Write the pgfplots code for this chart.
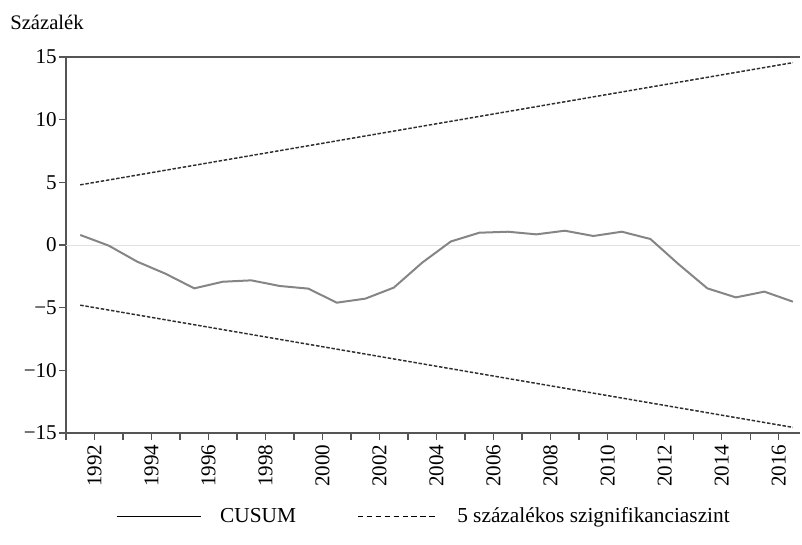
\documentclass[border=0pt]{standalone}
\usepackage{pgfplots}
\pgfplotsset{compat=1.18}
\usepackage{fontspec}
\setmainfont{Liberation Serif}
\definecolor{axgray}{HTML}{555555}
\definecolor{cusumc}{HTML}{858585}
\definecolor{dashc}{HTML}{2E2E2E}
\definecolor{zeroc}{HTML}{E2E2E2}
\begin{document}
\begin{tikzpicture}[x=1pt,y=1pt]
\useasboundingbox (-49.5,-83.25) rectangle (552,324.75);
\node[anchor=base west, inner sep=0pt, font=\fontsize{15.5}{18}\selectfont] at (-42,303) {Százalék};
\begin{axis}[
  at={(0,0)}, anchor=south west,
  scale only axis, width=550.5pt, height=282pt,
  xmin=1991, xmax=2016.75, ymin=-15, ymax=15,
  axis x line*=box, axis y line*=left,
  axis line style={axgray, line width=0.9pt, -},
  xtick={1992,1994,1996,1998,2000,2002,2004,2006,2008,2010,2012,2014,2016},
  xticklabels={1992,1994,1996,1998,2000,2002,2004,2006,2008,2010,2012,2014,2016},
  minor xtick={1991,1993,1995,1997,1999,2001,2003,2005,2007,2009,2011,2013,2015},
  ytick={-15,-10,-5,0,5,10,15},
  yticklabels={−15,−10,−5,0,5,10,15},
  tick align=outside, xtick pos=left, ytick pos=left,
  major tick length=5.25pt, minor tick length=5.25pt,
  every tick/.style={axgray, line width=0.9pt},
  minor tick style={axgray, line width=0.9pt},
  xticklabel style={rotate=90, anchor=east, font=\fontsize{15.8}{18}\selectfont},
  yticklabel style={font=\fontsize{15.8}{18}\selectfont, inner sep=1.5pt},
  legend columns=2,
  legend style={at={(0.488,-0.221)}, anchor=center, draw=none, fill=none,
    font=\fontsize{16}{18}\selectfont,
    /tikz/every even column/.append style={column sep=44pt}},
  clip=false,
]
\addplot[zeroc, line width=0.6pt, forget plot] coordinates {(1991,0) (2016.75,0)};
\addplot[cusumc, line width=1.5pt,
  legend image code/.code={\draw[black,line width=0.8pt] (0pt,0pt) -- (63pt,0pt); \path (75pt,0pt);}]
  coordinates {
  (1991.5,0.80) (1992.5,-0.05) (1993.5,-1.33) (1994.5,-2.30) (1995.5,-3.46)
  (1996.5,-2.93) (1997.5,-2.82) (1998.5,-3.27) (1999.5,-3.48) (2000.5,-4.60)
  (2001.5,-4.28) (2002.5,-3.40) (2003.5,-1.40) (2004.5,0.28) (2005.5,0.98)
  (2006.5,1.06) (2007.5,0.85) (2008.5,1.14) (2009.5,0.72) (2010.5,1.06)
  (2011.5,0.48) (2012.5,-1.55) (2013.5,-3.46) (2014.5,-4.18) (2015.5,-3.72)
  (2016.5,-4.52)
  };
\addlegendentry{CUSUM}
\addplot[dashc, line width=1.1pt, dash pattern=on 2.6pt off 1.3pt,
  legend image code/.code={\draw[black,line width=0.7pt,dash pattern=on 3.9pt off 2.8pt] (0pt,0pt) -- (60pt,0pt); \path (72pt,0pt);}]
  coordinates {(1991.5,4.80) (2016.5,14.55)};
\addlegendentry{5 százalékos szignifikanciaszint}
\addplot[dashc, line width=1.1pt, dash pattern=on 2.6pt off 1.3pt, forget plot]
  coordinates {(1991.5,-4.80) (2016.5,-14.55)};
\end{axis}
\end{tikzpicture}
\end{document}
